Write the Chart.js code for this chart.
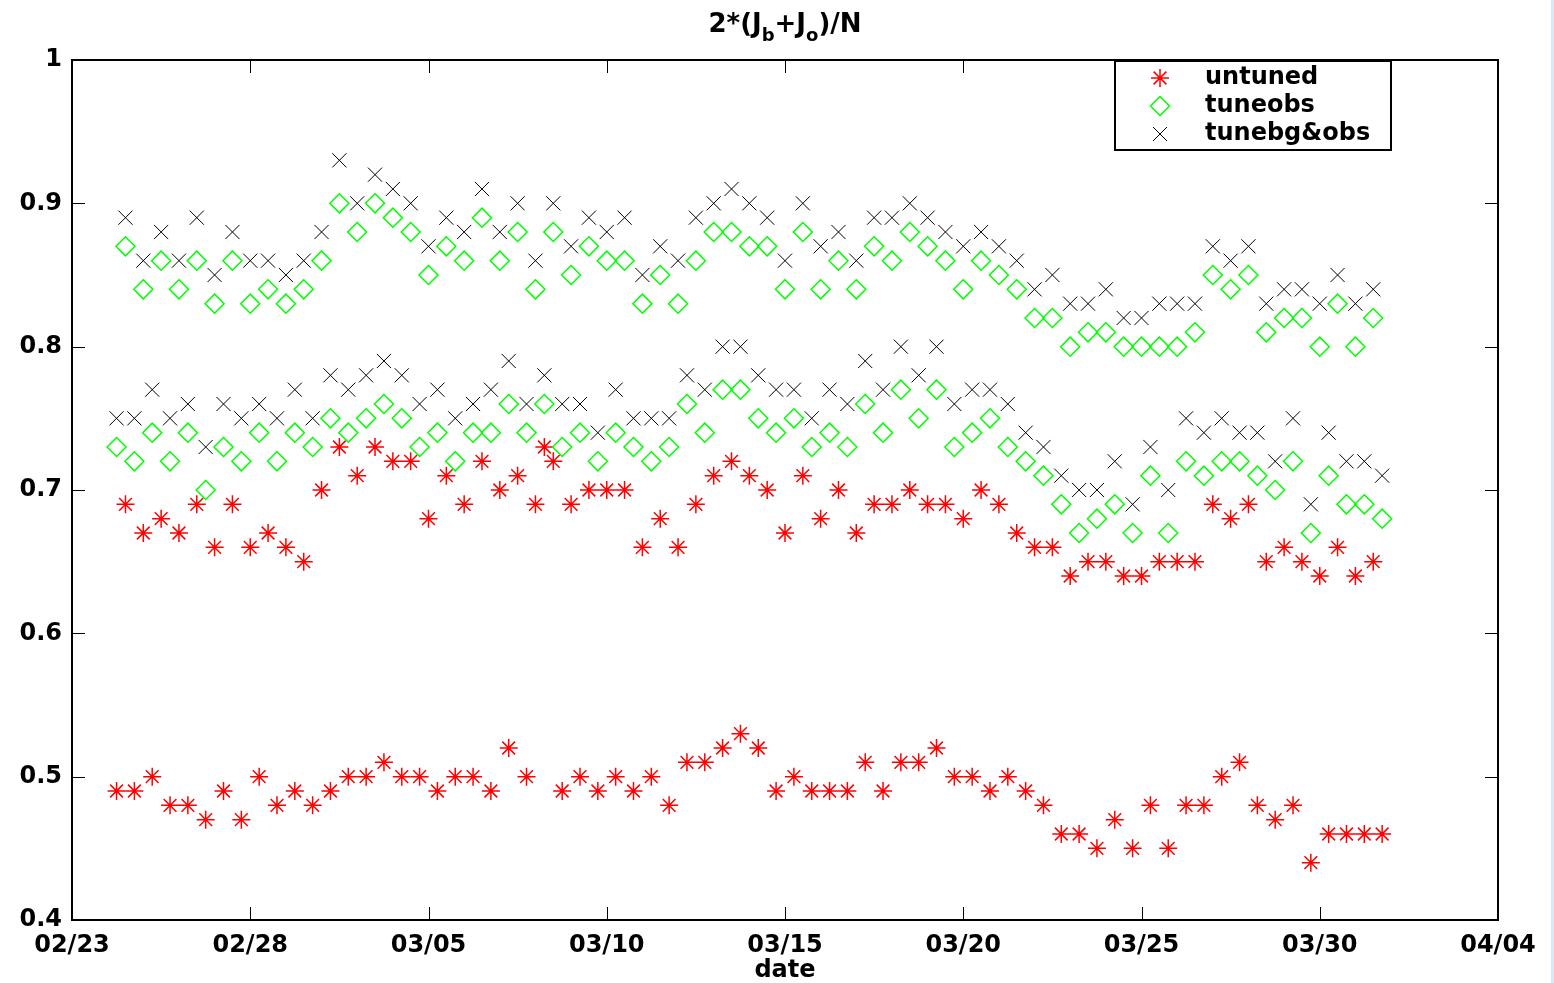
<!DOCTYPE html>
<html>
<head>
<meta charset="utf-8">
<title>2*(Jb+Jo)/N</title>
<script src="https://cdn.jsdelivr.net/npm/chart.js@4.4.1/dist/chart.umd.min.js"></script>
<style>
  html, body { margin: 0; padding: 0; background: #fff; }
  #wrap { width: 1554px; height: 983px; }
</style>
</head>
<body>
<div id="wrap"><canvas id="scoreChart" width="1554" height="983"></canvas></div>
<script>
        // times: every 6 h starting 02/24 06Z, alternating between the A and B sets
        const firstDay = 1.25;   // days after 02/23
        const stepDays = 0.25;

        const tickLabels = ['02/23', '02/28', '03/05', '03/10', '03/15', '03/20', '03/25', '03/30', '04/04'];
        const seriesNames = ['untuned', 'tuneobs', 'tunebg&obs'];

        // A set (06Z / 18Z) and B set (12Z / 00Z)
        const untunedA = [
            0.49, 0.49, 0.50, 0.48, 0.48, 0.47, 0.49, 0.47, 0.50, 0.48,
            0.49, 0.48, 0.49, 0.50, 0.50, 0.51, 0.50, 0.50, 0.49, 0.50,
            0.50, 0.49, 0.52, 0.50, 0.73, 0.49, 0.50, 0.49, 0.50, 0.49,
            0.50, 0.48, 0.51, 0.51, 0.52, 0.53, 0.52, 0.49, 0.50, 0.49,
            0.49, 0.49, 0.51, 0.49, 0.51, 0.51, 0.52, 0.50, 0.50, 0.49,
            0.50, 0.49, 0.48, 0.46, 0.46, 0.45, 0.47, 0.45, 0.48, 0.45,
            0.48, 0.48, 0.50, 0.51, 0.48, 0.47, 0.48, 0.44, 0.46, 0.46,
            0.46, 0.46
        ];
        const untunedB = [
            0.69, 0.67, 0.68, 0.67, 0.69, 0.66, 0.69, 0.66, 0.67, 0.66,
            0.65, 0.70, 0.73, 0.71, 0.73, 0.72, 0.72, 0.68, 0.71, 0.69,
            0.72, 0.70, 0.71, 0.69, 0.72, 0.69, 0.70, 0.70, 0.70, 0.66,
            0.68, 0.66, 0.69, 0.71, 0.72, 0.71, 0.70, 0.67, 0.71, 0.68,
            0.70, 0.67, 0.69, 0.69, 0.70, 0.69, 0.69, 0.68, 0.70, 0.69,
            0.67, 0.66, 0.66, 0.64, 0.65, 0.65, 0.64, 0.64, 0.65, 0.65,
            0.65, 0.69, 0.68, 0.69, 0.65, 0.66, 0.65, 0.64, 0.66, 0.64,
            0.65
        ];
        const tuneobsA = [
            0.73, 0.72, 0.74, 0.72, 0.74, 0.70, 0.73, 0.72, 0.74, 0.72,
            0.74, 0.73, 0.75, 0.74, 0.75, 0.76, 0.75, 0.73, 0.74, 0.72,
            0.74, 0.74, 0.76, 0.74, 0.76, 0.73, 0.74, 0.72, 0.74, 0.73,
            0.72, 0.73, 0.76, 0.74, 0.77, 0.77, 0.75, 0.74, 0.75, 0.73,
            0.74, 0.73, 0.76, 0.74, 0.77, 0.75, 0.77, 0.73, 0.74, 0.75,
            0.73, 0.72, 0.71, 0.69, 0.67, 0.68, 0.69, 0.67, 0.71, 0.67,
            0.72, 0.71, 0.72, 0.72, 0.71, 0.70, 0.72, 0.67, 0.71, 0.69,
            0.69, 0.68
        ];
        const tuneobsB = [
            0.87, 0.84, 0.86, 0.84, 0.86, 0.83, 0.86, 0.83, 0.84, 0.83,
            0.84, 0.86, 0.90, 0.88, 0.90, 0.89, 0.88, 0.85, 0.87, 0.86,
            0.89, 0.86, 0.88, 0.84, 0.88, 0.85, 0.87, 0.86, 0.86, 0.83,
            0.85, 0.83, 0.86, 0.88, 0.88, 0.87, 0.87, 0.84, 0.88, 0.84,
            0.86, 0.84, 0.87, 0.86, 0.88, 0.87, 0.86, 0.84, 0.86, 0.85,
            0.84, 0.82, 0.82, 0.80, 0.81, 0.81, 0.80, 0.80, 0.80, 0.80,
            0.81, 0.85, 0.84, 0.85, 0.81, 0.82, 0.82, 0.80, 0.83, 0.80,
            0.82
        ];
        const tunebgA = [
            0.75, 0.75, 0.77, 0.75, 0.76, 0.73, 0.76, 0.75, 0.76, 0.75,
            0.77, 0.75, 0.78, 0.77, 0.78, 0.79, 0.78, 0.76, 0.77, 0.75,
            0.76, 0.77, 0.79, 0.76, 0.78, 0.76, 0.76, 0.74, 0.77, 0.75,
            0.75, 0.75, 0.78, 0.77, 0.80, 0.80, 0.78, 0.77, 0.77, 0.75,
            0.77, 0.76, 0.79, 0.77, 0.80, 0.78, 0.80, 0.76, 0.77, 0.77,
            0.76, 0.74, 0.73, 0.71, 0.70, 0.70, 0.72, 0.69, 0.73, 0.70,
            0.75, 0.74, 0.75, 0.74, 0.74, 0.72, 0.75, 0.69, 0.74, 0.72,
            0.72, 0.71
        ];
        const tunebgB = [
            0.89, 0.86, 0.88, 0.86, 0.89, 0.85, 0.88, 0.86, 0.86, 0.85,
            0.86, 0.88, 0.93, 0.90, 0.92, 0.91, 0.90, 0.87, 0.89, 0.88,
            0.91, 0.88, 0.90, 0.86, 0.90, 0.87, 0.89, 0.88, 0.89, 0.85,
            0.87, 0.86, 0.89, 0.90, 0.91, 0.90, 0.89, 0.86, 0.90, 0.87,
            0.88, 0.86, 0.89, 0.89, 0.90, 0.89, 0.88, 0.87, 0.88, 0.87,
            0.86, 0.84, 0.85, 0.83, 0.83, 0.84, 0.82, 0.82, 0.83, 0.83,
            0.83, 0.87, 0.86, 0.87, 0.83, 0.84, 0.84, 0.83, 0.85, 0.83,
            0.84
        ];

        const FONT = '"DejaVu Sans", Arial, sans-serif';

        function interleave(a, b) {
            const pts = [];
            for (let i = 0; i < a.length + b.length; i++) {
                const v = i % 2 === 0 ? a[i / 2] : b[(i - 1) / 2];
                pts.push({ x: firstDay + stepDays * i, y: v });
            }
            return pts;
        }

        // little marker drawer for the legend box
        function drawMarker(ctx, kind, x, y, color) {
            ctx.save();
            ctx.strokeStyle = color;
            ctx.beginPath();
            if (kind === 'star') {
                const r = 9, d = r * Math.SQRT1_2;
                ctx.lineWidth = 1.5;
                ctx.moveTo(x - r, y); ctx.lineTo(x + r, y);
                ctx.moveTo(x, y - r); ctx.lineTo(x, y + r);
                ctx.moveTo(x - d, y - d); ctx.lineTo(x + d, y + d);
                ctx.moveTo(x - d, y + d); ctx.lineTo(x + d, y - d);
            } else if (kind === 'diamond') {
                const r = 9.5;
                ctx.lineWidth = 1.5;
                ctx.moveTo(x - r, y); ctx.lineTo(x, y - r);
                ctx.lineTo(x + r, y); ctx.lineTo(x, y + r);
                ctx.closePath();
            } else {
                const d = 7;
                ctx.lineWidth = 1;
                ctx.moveTo(x - d, y - d); ctx.lineTo(x + d, y + d);
                ctx.moveTo(x - d, y + d); ctx.lineTo(x + d, y - d);
            }
            ctx.stroke();
            ctx.restore();
        }

        // matlab-ish box, inward ticks on all four sides
        const axesBox = {
            id: 'axesBox',
            afterDatasetsDraw(chart) {
                const { ctx, chartArea: a, scales } = chart;
                ctx.save();
                ctx.strokeStyle = '#000';
                ctx.lineWidth = 1;
                ctx.beginPath();
                scales.x.ticks.forEach(t => {
                    const px = Math.round(scales.x.getPixelForValue(t.value)) + 0.5;
                    ctx.moveTo(px, a.bottom); ctx.lineTo(px, a.bottom - 13);
                    ctx.moveTo(px, a.top); ctx.lineTo(px, a.top + 13);
                });
                scales.y.ticks.forEach(t => {
                    const py = Math.round(scales.y.getPixelForValue(t.value)) + 0.5;
                    ctx.moveTo(a.left, py); ctx.lineTo(a.left + 13, py);
                    ctx.moveTo(a.right, py); ctx.lineTo(a.right - 13, py);
                });
                ctx.stroke();
                ctx.lineWidth = 2;
                ctx.strokeRect(a.left, a.top, a.right - a.left, a.bottom - a.top);
                ctx.restore();
            },
            afterDraw(chart) {
                const ctx = chart.ctx;
                ctx.save();
                // pale strip at the right edge of the screenshot
                ctx.fillStyle = '#d4ecf7';
                ctx.fillRect(1551, 0, 3, chart.height);

                // title with subscripts
                const big = 'bold 26px ' + FONT, small = 'bold 18px ' + FONT;
                const parts = [['2*(J', big, 0], ['b', small, 9], ['+J', big, 0], ['o', small, 9], [')/N', big, 0]];
                let w = 0;
                parts.forEach(p => { ctx.font = p[1]; w += ctx.measureText(p[0]).width; });
                let x = 785 - w / 2;
                ctx.fillStyle = '#000';
                ctx.textBaseline = 'alphabetic';
                ctx.textAlign = 'left';
                parts.forEach(p => {
                    ctx.font = p[1];
                    ctx.fillText(p[0], x, 32 + p[2]);
                    x += ctx.measureText(p[0]).width;
                });

                // legend box
                const lx = 1115, ly = 61, lw = 276, lh = 89;
                ctx.fillStyle = '#fff';
                ctx.fillRect(lx, ly, lw, lh);
                ctx.lineWidth = 2;
                ctx.strokeStyle = '#000';
                ctx.strokeRect(lx, ly, lw, lh);
                const kinds = ['star', 'diamond', 'cross'];
                const colors = ['#ff0000', '#00ff00', '#000000'];
                ctx.font = 'bold 24px ' + FONT;
                ctx.textBaseline = 'middle';
                seriesNames.forEach((name, i) => {
                    const ry = 78 + i * 28;
                    drawMarker(ctx, kinds[i], 1160, ry, colors[i]);
                    ctx.fillStyle = '#000';
                    ctx.fillText(name, 1205, ry);
                });
                ctx.restore();
            }
        };

        const ctx = document.getElementById('scoreChart').getContext('2d');
        const chart = new Chart(ctx, {
            type: 'scatter',
            data: {
                datasets: [
                    {
                        label: seriesNames[0],
                        data: interleave(untunedA, untunedB),
                        pointStyle: 'star',
                        pointRadius: 9,
                        borderColor: '#ff0000',
                        backgroundColor: '#ff0000',
                        pointBorderWidth: 1.5,
                        order: 3
                    },
                    {
                        label: seriesNames[1],
                        data: interleave(tuneobsA, tuneobsB),
                        pointStyle: 'rectRot',
                        pointRadius: 9.5,
                        borderColor: '#00ff00',
                        backgroundColor: 'rgba(0,0,0,0)',
                        pointBorderWidth: 1.5,
                        order: 2
                    },
                    {
                        label: seriesNames[2],
                        data: interleave(tunebgA, tunebgB),
                        pointStyle: 'crossRot',
                        pointRadius: 10,
                        borderColor: '#000000',
                        backgroundColor: '#000000',
                        pointBorderWidth: 1,
                        order: 1
                    }
                ]
            },
            options: {
                responsive: false,
                animation: false,
                events: [],
                layout: { padding: { top: 60, right: 56, left: 0, bottom: 0 } },
                plugins: {
                    legend: { display: false },
                    title: { display: false },
                    tooltip: { enabled: false }
                },
                scales: {
                    x: {
                        type: 'linear',
                        min: 0,
                        max: 40,
                        afterFit: s => { s.height = 63; },
                        grid: { display: false, drawTicks: false },
                        border: { display: false },
                        ticks: {
                            stepSize: 5,
                            padding: 11,
                            color: '#000',
                            font: { family: FONT, size: 24, weight: 'bold' },
                            callback: (v, i) => tickLabels[i]
                        },
                        title: {
                            display: true,
                            text: 'date',
                            color: '#000',
                            padding: { top: 0, bottom: 0 },
                            font: { family: FONT, size: 24, weight: 'bold', lineHeight: 1 }
                        }
                    },
                    y: {
                        min: 0.4,
                        max: 1,
                        afterFit: s => { s.width = 72; },
                        grid: { display: false, drawTicks: false },
                        border: { display: false },
                        ticks: {
                            stepSize: 0.1,
                            padding: 10,
                            color: '#000',
                            font: { family: FONT, size: 24, weight: 'bold' },
                            callback: v => String(Math.round(v * 10) / 10)
                        }
                    }
                }
            },
            plugins: [axesBox]
        });
</script>
</body>
</html>
